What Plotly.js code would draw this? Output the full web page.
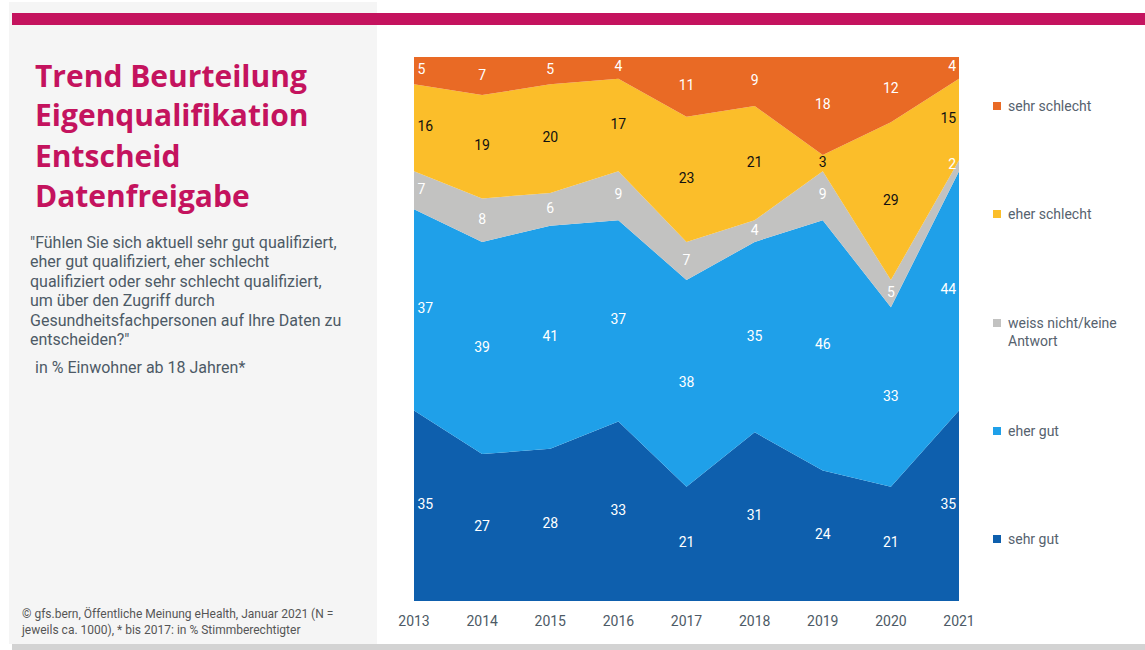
<!DOCTYPE html>
<html>
<head>
<meta charset="utf-8">
<script src="https://cdn.plot.ly/plotly-3.0.1.min.js"></script>
<style>
html,body{margin:0;padding:0;background:#fff;}
#chart{width:1145px;height:650px;}
</style>
</head>
<body>
<div id="chart"></div>
<script>
// ---- data ----
const years = [2013, 2014, 2015, 2016, 2017, 2018, 2019, 2020, 2021];
const sehrGut      = [35, 27, 28, 33, 21, 31, 24, 21, 35];
const eherGut      = [37, 39, 41, 37, 38, 35, 46, 33, 44];
const weissNicht   = [7, 8, 6, 9, 7, 4, 9, 5, 2];
const eherSchlecht = [16, 19, 20, 17, 23, 21, 3, 29, 15];
const sehrSchlecht = [5, 7, 5, 4, 11, 9, 18, 12, 4];
const seriesNames = ["sehr gut", "eher gut", "weiss nicht/keine Antwort", "eher schlecht", "sehr schlecht"];
const legendLabels = ["sehr gut", "eher gut", "weiss nicht/keine<br>Antwort", "eher schlecht", "sehr schlecht"];
const titleLines = ["Trend Beurteilung", "Eigenqualifikation", "Entscheid", "Datenfreigabe"];
const questionLines = [
  "\"Fühlen Sie sich aktuell sehr gut qualifiziert,",
  "eher gut qualifiziert, eher schlecht",
  "qualifiziert oder sehr schlecht qualifiziert,",
  "um über den Zugriff durch",
  "Gesundheitsfachpersonen auf Ihre Daten zu",
  "entscheiden?\""
];
const baseText = "in % Einwohner ab 18 Jahren*";
const sourceText = "© gfs.bern, Öffentliche Meinung eHealth, Januar 2021 (N =<br>jeweils ca. 1000), * bis 2017: in % Stimmberechtigter";

// ---- styling ----
const series = [sehrGut, eherGut, weissNicht, eherSchlecht, sehrSchlecht];
const colors = ["#0e5fad", "#1fa0e9", "#c2c2c1", "#fbbe2a", "#e96a25"];
const labelColors = ["#ffffff", "#ffffff", "#ffffff", "#111111", "#ffffff"];
const FONT = "Roboto, 'Fira Sans', 'Noto Sans', sans-serif";

// plot area in pixels
const L = 414, R = 959, T = 57, B = 601, W = 1145, H = 650;
const px = x => (x - L) / (R - L);
const py = y => (B - y) / (B - T);

const traces = [];
const cum = years.map(() => 0);
series.forEach((vals, s) => {
  traces.push({
    type: "scatter", mode: "lines", x: years, y: vals,
    stackgroup: "one", name: seriesNames[s],
    line: {width: 0, color: colors[s]}, fillcolor: colors[s],
    hoverinfo: "skip", showlegend: false
  });
});
const last = years.length - 1;
series.forEach((vals, s) => {
  const mids = vals.map((v, i) => cum[i] + v / 2);
  vals.forEach((v, i) => cum[i] += v);
  traces.push({
    type: "scatter", mode: "text", x: years, y: mids,
    text: vals.map((v, i) => i === 0 ? "\u00a0" + v : (i === last ? v + "\u2009" : String(v))),
    textposition: years.map((y, i) => i === 0 ? "middle right" : (i === last ? "middle left" : "middle center")),
    textfont: {family: FONT, size: 14, color: labelColors[s]},
    hoverinfo: "skip", showlegend: false, cliponaxis: false
  });
});

const shapes = [
  {type: "rect", xref: "paper", yref: "paper", x0: px(9), x1: px(377), y0: py(644), y1: py(2),
   fillcolor: "#f5f5f5", line: {width: 0}, layer: "below"},
  {type: "rect", xref: "paper", yref: "paper", x0: px(12), x1: px(1145), y0: py(25), y1: py(13),
   fillcolor: "#c4135e", line: {width: 0}, layer: "above"},
  {type: "rect", xref: "paper", yref: "paper", x0: px(12), x1: px(1145), y0: py(650), y1: py(644),
   fillcolor: "#d3d3d3", line: {width: 0}, layer: "below"}
];

const annotations = [];
const legendY = [539, 431, 323, 214, 106];
for (let s = 4; s >= 0; s--) {
  const yc = legendY[s];
  shapes.push({type: "rect", xref: "paper", yref: "paper",
    x0: px(993), x1: px(1001), y0: py(yc + 4), y1: py(yc - 4),
    fillcolor: colors[s], line: {width: 0}});
  annotations.push({xref: "paper", yref: "paper", x: px(1006), y: py(yc - 10),
    xanchor: "left", yanchor: "top", align: "left", showarrow: false,
    text: legendLabels[s], font: {family: FONT, size: 14, color: "#56626e"}});
}

titleLines.forEach((t, i) => {
  annotations.push({xref: "paper", yref: "paper", x: px(33), y: py(75 + 40 * i), xanchor: "left", yanchor: "middle",
    align: "left", showarrow: false, text: "<b>" + t + "</b>",
    font: {family: "'Open Sans', sans-serif", size: 30, color: "#c4135e"}});
});
questionLines.forEach((t, i) => {
  annotations.push({xref: "paper", yref: "paper", x: px(28), y: py(242.5 + 19.4 * i), xanchor: "left", yanchor: "middle",
    align: "left", showarrow: false, text: t,
    font: {family: FONT, size: 16, color: "#4d5a66"}});
});
annotations.push({xref: "paper", yref: "paper", x: px(33), y: py(367.5), xanchor: "left", yanchor: "middle",
  align: "left", showarrow: false, text: baseText,
  font: {family: FONT, size: 16, color: "#4d5a66"}});
annotations.push({xref: "paper", yref: "paper", x: px(19), y: py(604), xanchor: "left", yanchor: "top",
  align: "left", showarrow: false, text: sourceText,
  font: {family: FONT, size: 12, color: "#555555"}});

const layout = {
  width: W, height: H,
  margin: {l: L, r: W - R, t: T, b: H - B, pad: 0},
  paper_bgcolor: "#ffffff", plot_bgcolor: "#ffffff",
  showlegend: false, hovermode: false,
  xaxis: {range: [2013, 2021], tickvals: years, ticktext: years.map(String),
    showgrid: false, zeroline: false, showline: false, ticks: "", ticklabelstandoff: 10,
    tickfont: {family: FONT, size: 14, color: "#4d5a66"}, fixedrange: true},
  yaxis: {range: [0, 100], visible: false, fixedrange: true},
  shapes: shapes, annotations: annotations
};

Plotly.newPlot("chart", traces, layout, {displayModeBar: false, staticPlot: true});
</script>
</body>
</html>
